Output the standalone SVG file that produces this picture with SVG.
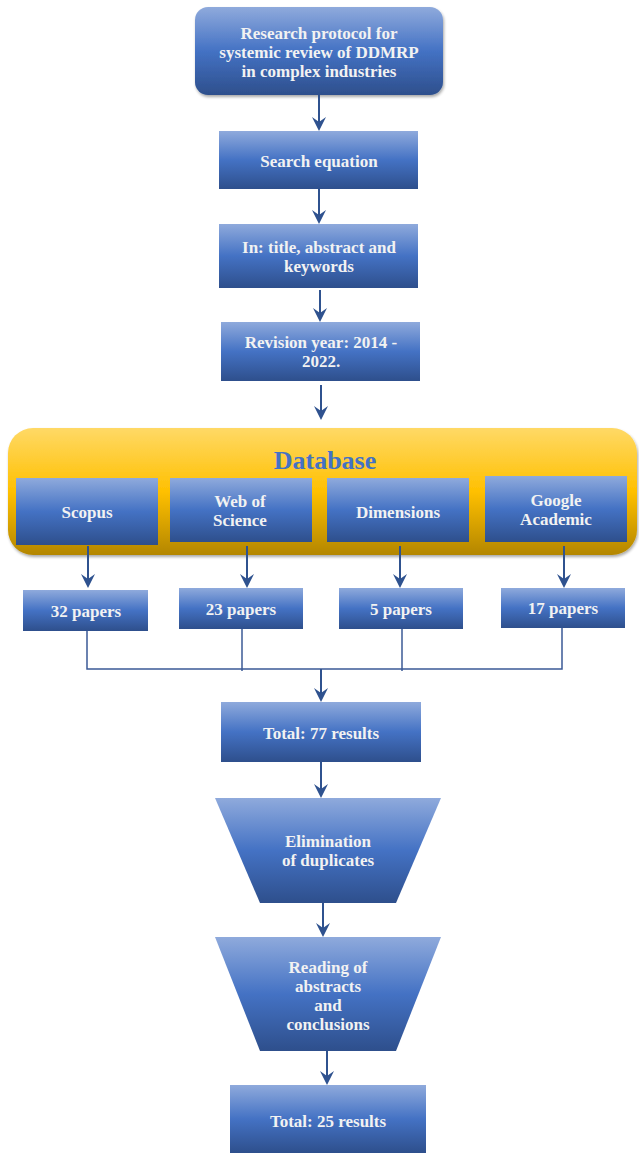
<svg xmlns="http://www.w3.org/2000/svg" width="639" height="1153" viewBox="0 0 639 1153">
<defs>
<linearGradient id="blue" x1="0" y1="0" x2="0" y2="1">
<stop offset="0" stop-color="#8faadc"/>
<stop offset="0.5" stop-color="#4472c4"/>
<stop offset="1" stop-color="#2e4f8c"/>
</linearGradient>
<linearGradient id="gold" x1="0" y1="0" x2="0" y2="1">
<stop offset="0" stop-color="#ffd966"/>
<stop offset="0.5" stop-color="#ffc000"/>
<stop offset="1" stop-color="#b38600"/>
</linearGradient>
<marker id="arr" viewBox="0 0 14 14" refX="12" refY="7" markerWidth="14" markerHeight="14" markerUnits="userSpaceOnUse" orient="auto">
<path d="M0,0 L14,7 L0,14 L5,7 Z" fill="#2f528f"/>
</marker>
<filter id="sh" x="-5%" y="-5%" width="110%" height="115%">
<feGaussianBlur in="SourceAlpha" stdDeviation="1.5"/>
<feOffset dx="1" dy="2"/>
<feComponentTransfer><feFuncA type="linear" slope="0.35"/></feComponentTransfer>
<feMerge><feMergeNode/><feMergeNode in="SourceGraphic"/></feMerge>
</filter>
</defs>
<style>
.b{fill:url(#blue);}
.t{font-family:"Liberation Serif",serif;font-weight:bold;font-size:17px;fill:#f2f2f2;text-anchor:middle;}
.c{stroke:#2f528f;stroke-width:2;fill:none;}
.l{stroke:#3b5a96;stroke-width:1.5;fill:none;}
</style>
<g id="n-protocol">
<rect x="195" y="7" width="248" height="88" rx="13" class="b" filter="url(#sh)"/>
<text class="t" x="319" y="39">Research protocol for</text>
<text class="t" x="319" y="58">systemic review of DDMRP</text>
<text class="t" x="319" y="77">in complex industries</text>
</g>
<g id="n-search">
<rect x="219" y="131" width="199" height="58" class="b"/>
<text class="t" x="319" y="167">Search equation</text>
</g>
<g id="n-in">
<rect x="219" y="224" width="199" height="64" class="b"/>
<text class="t" x="319" y="253">In: title, abstract and</text>
<text class="t" x="319" y="272">keywords</text>
</g>
<g id="n-revision">
<rect x="221" y="322" width="199" height="59" class="b"/>
<text class="t" x="321" y="348">Revision year: 2014 -</text>
<text class="t" x="321" y="367">2022.</text>
</g>
<g id="n-database">
<rect x="8" y="428" width="629" height="127" rx="25" fill="url(#gold)" filter="url(#sh)"/>
<text x="325" y="469" font-family="Liberation Serif, serif" font-weight="bold" font-size="26" fill="#4472c4" text-anchor="middle">Database</text>
</g>
<g id="n-scopus">
<rect x="16" y="478" width="142" height="67" class="b"/>
<text class="t" x="87" y="518">Scopus</text>
</g>
<g id="n-wos">
<rect x="170" y="478" width="142" height="64" class="b"/>
<text class="t" x="240" y="507">Web of</text>
<text class="t" x="240" y="526">Science</text>
</g>
<g id="n-dimensions">
<rect x="327" y="478" width="142" height="64" class="b"/>
<text class="t" x="398" y="518">Dimensions</text>
</g>
<g id="n-google">
<rect x="485" y="476" width="142" height="66" class="b"/>
<text class="t" x="556" y="506">Google</text>
<text class="t" x="556" y="525">Academic</text>
</g>
<g id="n-p32">
<rect x="23" y="590" width="125" height="41" class="b"/>
<text class="t" x="86" y="617">32 papers</text>
</g>
<g id="n-p23">
<rect x="179" y="588" width="124" height="41" class="b"/>
<text class="t" x="241" y="615">23 papers</text>
</g>
<g id="n-p5">
<rect x="339" y="588" width="124" height="41" class="b"/>
<text class="t" x="401" y="615">5 papers</text>
</g>
<g id="n-p17">
<rect x="501" y="588" width="124" height="40" class="b"/>
<text class="t" x="563" y="614">17 papers</text>
</g>
<g id="n-total77">
<rect x="221" y="702" width="200" height="60" class="b"/>
<text class="t" x="321" y="739">Total: 77 results</text>
</g>
<g id="n-elim">
<polygon points="215,798 441,798 396,903 260,903" class="b"/>
<text class="t" x="328" y="847">Elimination</text>
<text class="t" x="328" y="866">of duplicates</text>
</g>
<g id="n-reading">
<polygon points="215,937 441,937 396,1051 260,1051" class="b"/>
<text class="t" x="328" y="973">Reading of</text>
<text class="t" x="328" y="992">abstracts</text>
<text class="t" x="328" y="1011">and</text>
<text class="t" x="328" y="1030">conclusions</text>
</g>
<g id="n-total25">
<rect x="230" y="1085" width="196" height="68" class="b"/>
<text class="t" x="328" y="1127">Total: 25 results</text>
</g>
<g id="connectors">
<line x1="319" y1="95" x2="319" y2="129" class="c" marker-end="url(#arr)"/>
<line x1="319" y1="189" x2="319" y2="222" class="c" marker-end="url(#arr)"/>
<line x1="320" y1="290" x2="320" y2="320" class="c" marker-end="url(#arr)"/>
<line x1="321" y1="385" x2="321" y2="418" class="c" marker-end="url(#arr)"/>
<line x1="88" y1="546" x2="88" y2="586" class="c" marker-end="url(#arr)"/>
<line x1="247" y1="546" x2="247" y2="586" class="c" marker-end="url(#arr)"/>
<line x1="400" y1="546" x2="400" y2="586" class="c" marker-end="url(#arr)"/>
<line x1="564" y1="546" x2="564" y2="586" class="c" marker-end="url(#arr)"/>
<polyline points="87,631 87,669 562,669 562,628" class="l"/>
<line x1="242" y1="629" x2="242" y2="671" class="l"/>
<line x1="402" y1="629" x2="402" y2="671" class="l"/>
<line x1="321" y1="669" x2="321" y2="700" class="c" marker-end="url(#arr)"/>
<line x1="321" y1="762" x2="321" y2="796" class="c" marker-end="url(#arr)"/>
<line x1="323" y1="903" x2="323" y2="935" class="c" marker-end="url(#arr)"/>
<line x1="327" y1="1051" x2="327" y2="1083" class="c" marker-end="url(#arr)"/>
</g>
</svg>
